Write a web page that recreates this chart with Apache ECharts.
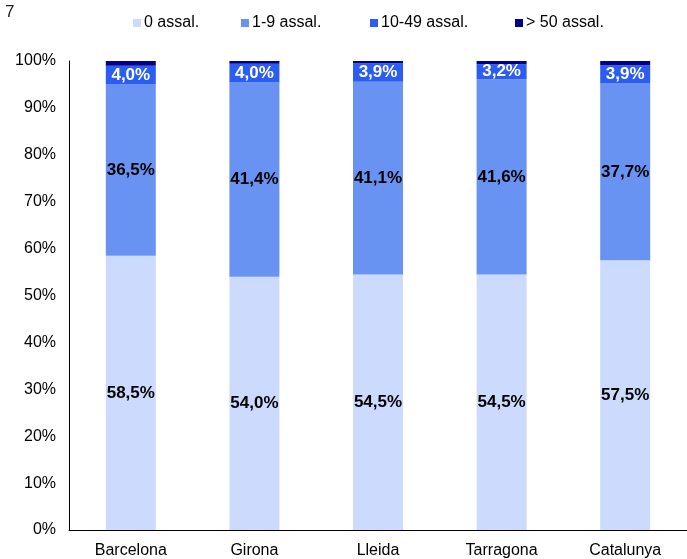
<!DOCTYPE html>
<html>
<head>
<meta charset="utf-8">
<script src="https://cdn.jsdelivr.net/npm/echarts@6/dist/echarts.min.js"></script>
<style>
html,body{margin:0;padding:0;background:#fff;}
#chart{width:687px;height:559px;}
</style>
</head>
<body>
<div id="chart"></div>
<script>
const categories = ['Barcelona', 'Girona', 'Lleida', 'Tarragona', 'Catalunya'];
const seriesNames = ['0 assal.', '1-9 assal.', '10-49 assal.', '> 50 assal.'];
const assal0 = [58.5, 54.0, 54.5, 54.5, 57.5];
const assal1_9 = [36.5, 41.4, 41.1, 41.6, 37.7];
const assal10_49 = [4.0, 4.0, 3.9, 3.2, 3.9];
const assal50 = [1.0, 0.6, 0.5, 0.7, 0.9];
const yTicks = [0, 10, 20, 30, 40, 50, 60, 70, 80, 90, 100];

const colors = ['#CCDAFD', '#6893F3', '#2C5DF2', '#00008C'];
const FONT = '"Liberation Sans", Arial, sans-serif';

const chart = echarts.init(document.getElementById('chart'), null, {renderer: 'canvas'});

const fmt = p => p.value.toFixed(1).replace('.', ',') + '%';
function labelCfg(color, show) {
  return {
    show: show,
    position: 'inside',
    formatter: fmt,
    color: color,
    fontFamily: FONT,
    fontWeight: 'bold',
    fontSize: 17
  };
}

const dataSets = [assal0, assal1_9, assal10_49, assal50];
const labelColors = ['#000', '#000', '#fff', '#fff'];
const labelShow = [true, true, true, false];
const legendLeft = [133, 241, 370, 515];

const option = {
  animation: false,
  textStyle: {fontFamily: FONT},
  graphic: [{
    type: 'text', left: 5, top: 4,
    style: {text: '7', fontSize: 17, fontFamily: FONT, fill: '#222'}
  }],
  legend: seriesNames.map((n, i) => ({
    data: [n],
    left: legendLeft[i],
    top: 15,
    padding: 0,
    icon: 'rect',
    itemWidth: 8,
    itemHeight: 8,
    itemGap: 4,
    selectedMode: false,
    textStyle: {fontSize: 16, color: '#000', fontFamily: FONT, padding: [0, 0, 0, -2]}
  })),
  grid: {left: 69, top: 61, width: 632, height: 469, containLabel: false},
  xAxis: {
    type: 'category',
    data: categories,
    axisLine: {show: true, lineStyle: {color: '#000', width: 1}},
    axisTick: {show: false},
    axisLabel: {color: '#000', fontSize: 16, fontFamily: FONT, margin: 13}
  },
  yAxis: {
    type: 'value',
    min: yTicks[0],
    max: yTicks[yTicks.length - 1],
    interval: 10,
    axisLine: {show: true, lineStyle: {color: '#000', width: 1}},
    axisTick: {show: false},
    splitLine: {show: false},
    axisLabel: {color: '#000', fontSize: 16, fontFamily: FONT, margin: 13, formatter: '{value}%'}
  },
  series: dataSets.map((d, i) => ({
    name: seriesNames[i],
    type: 'bar',
    stack: 'total',
    data: d,
    barWidth: 50,
    itemStyle: {color: colors[i]},
    label: labelCfg(labelColors[i], labelShow[i]),
    emphasis: {disabled: true}
  }))
};
chart.setOption(option);
</script>
</body>
</html>
